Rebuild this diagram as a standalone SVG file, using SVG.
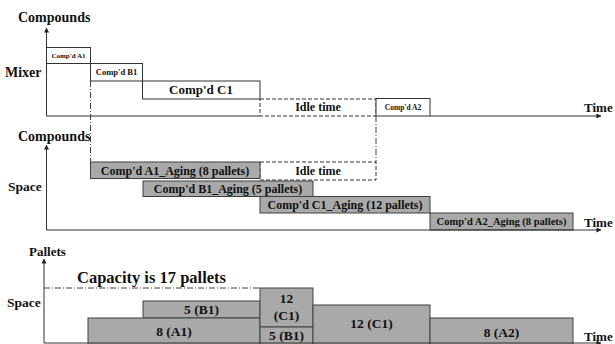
<svg xmlns="http://www.w3.org/2000/svg" width="615" height="344" viewBox="0 0 615 344">
<defs>
<marker id="arr" viewBox="0 0 6 6" refX="5.5" refY="3" markerWidth="5" markerHeight="5" orient="auto" markerUnits="userSpaceOnUse">
<path d="M0,0 L6,3 L0,6 Z" fill="#222"/>
</marker>
</defs>
<style>
text{font-family:"Liberation Serif","Times New Roman",serif;font-weight:bold;fill:#111}
.lab{font-size:14px}
.ax{stroke:#333;stroke-width:1;fill:none}
.wb{fill:#fff;stroke:#333;stroke-width:1}
.gb{fill:#a9a9a9;stroke:#404040;stroke-width:1}
.db{fill:#fff;stroke:#333;stroke-width:1;stroke-dasharray:4 2}
.dd{stroke:#444;stroke-width:1;fill:none;stroke-dasharray:6 2 1 2}
.c{text-anchor:middle}
</style>
<rect width="615" height="344" fill="#fff"/>

<!-- top chart -->
<g id="top-labels">
<text x="18" y="22" class="lab">Compounds</text>
<text x="5" y="77" class="lab">Mixer</text>
<text x="584" y="112" font-size="13">Time</text>
</g>
<g id="mix-A1"><rect x="46.5" y="47.5" width="44" height="16" class="wb"/><text x="68.5" y="58" font-size="7" class="c">Comp'd A1</text></g>
<g id="mix-B1"><rect x="90.5" y="63.5" width="52" height="17.5" class="wb"/><text x="116.5" y="75" font-size="8.5" class="c">Comp'd B1</text></g>
<g id="mix-C1"><rect x="142.5" y="81" width="117.5" height="18" class="wb"/><text x="201" y="94" font-size="13" class="c">Comp'd C1</text></g>
<g id="mix-idle"><rect x="260" y="99" width="116" height="17" class="db"/><text x="318" y="111" font-size="12" class="c">Idle time</text></g>
<g id="mix-A2"><rect x="376" y="98.5" width="54" height="17.5" class="wb"/><text x="403" y="109.5" font-size="7.5" class="c">Comp'd A2</text></g>

<!-- middle chart -->
<g id="mid-labels">
<text x="18" y="141" class="lab">Compounds</text>
<text x="8" y="191" font-size="13.5">Space</text>
<text x="584" y="227" font-size="13">Time</text>
</g>
<g id="age-idle"><rect x="260" y="162" width="116" height="18" class="db"/><text x="318" y="175" font-size="12" class="c">Idle time</text></g>
<g id="age-A1"><rect x="90.5" y="162" width="169.5" height="16.5" class="gb"/><text x="175" y="174.5" font-size="12" class="c">Comp'd A1_Aging (8 pallets)</text></g>
<g id="age-B1"><rect x="143" y="181" width="170" height="15.5" class="gb"/><text x="228" y="192.5" font-size="12" class="c">Comp'd B1_Aging (5 pallets)</text></g>
<g id="age-C1"><rect x="260" y="196.5" width="170" height="16.5" class="gb"/><text x="345" y="209" font-size="12" class="c">Comp'd C1_Aging (12 pallets)</text></g>
<g id="age-A2"><rect x="430" y="213" width="143" height="17" class="gb"/><text x="501.5" y="225" font-size="10.5" class="c">Comp'd A2_Aging (8 pallets)</text></g>

<!-- bottom chart -->
<g id="bot-labels">
<text x="29" y="256" font-size="13">Pallets</text>
<text x="77" y="283" font-size="16.5">Capacity is 17 pallets</text>
<text x="7" y="307" font-size="13.5">Space</text>
<text x="584" y="341" font-size="13">Time</text>
</g>
<g id="pal-B1"><rect x="143" y="301" width="117" height="17" class="gb"/><text x="201.5" y="314" font-size="13.5" class="c">5 (B1)</text></g>
<g id="pal-A1"><rect x="88" y="318" width="172" height="27" class="gb"/><text x="174" y="336" font-size="13.5" class="c">8 (A1)</text></g>
<g id="pal-C1a"><rect x="260" y="288" width="53" height="39" class="gb"/><text x="286.5" y="303" font-size="13.5" class="c">12</text><text x="286.5" y="320" font-size="13.5" class="c">(C1)</text></g>
<g id="pal-B1b"><rect x="260" y="327" width="53" height="18" class="gb"/><text x="286.5" y="340" font-size="13.5" class="c">5 (B1)</text></g>
<g id="pal-C1b"><rect x="313" y="305" width="117" height="40" class="gb"/><text x="371.5" y="328" font-size="13.5" class="c">12 (C1)</text></g>
<g id="pal-A2"><rect x="430" y="318" width="143" height="27" class="gb"/><text x="501.5" y="337" font-size="13.5" class="c">8 (A2)</text></g>

<g id="connectors">
<line x1="46.5" y1="116" x2="46.5" y2="28" class="ax" marker-end="url(#arr)"/>
<line x1="46.5" y1="116" x2="260" y2="116" class="ax"/>
<line x1="430" y1="116" x2="601" y2="116" class="ax" marker-end="url(#arr)"/>
<line x1="46.5" y1="230" x2="46.5" y2="145" class="ax" marker-end="url(#arr)"/>
<line x1="46.5" y1="230" x2="601" y2="230" class="ax" marker-end="url(#arr)"/>
<line x1="44" y1="343" x2="44" y2="259" class="ax" marker-end="url(#arr)"/>
<line x1="44" y1="343" x2="601" y2="343" class="ax" marker-end="url(#arr)"/>
<line x1="90.5" y1="81" x2="90.5" y2="162" class="dd"/>
<line x1="376" y1="116" x2="376" y2="162" class="dd"/>
<line x1="44" y1="288" x2="260" y2="288" class="dd"/>
</g>
</svg>
